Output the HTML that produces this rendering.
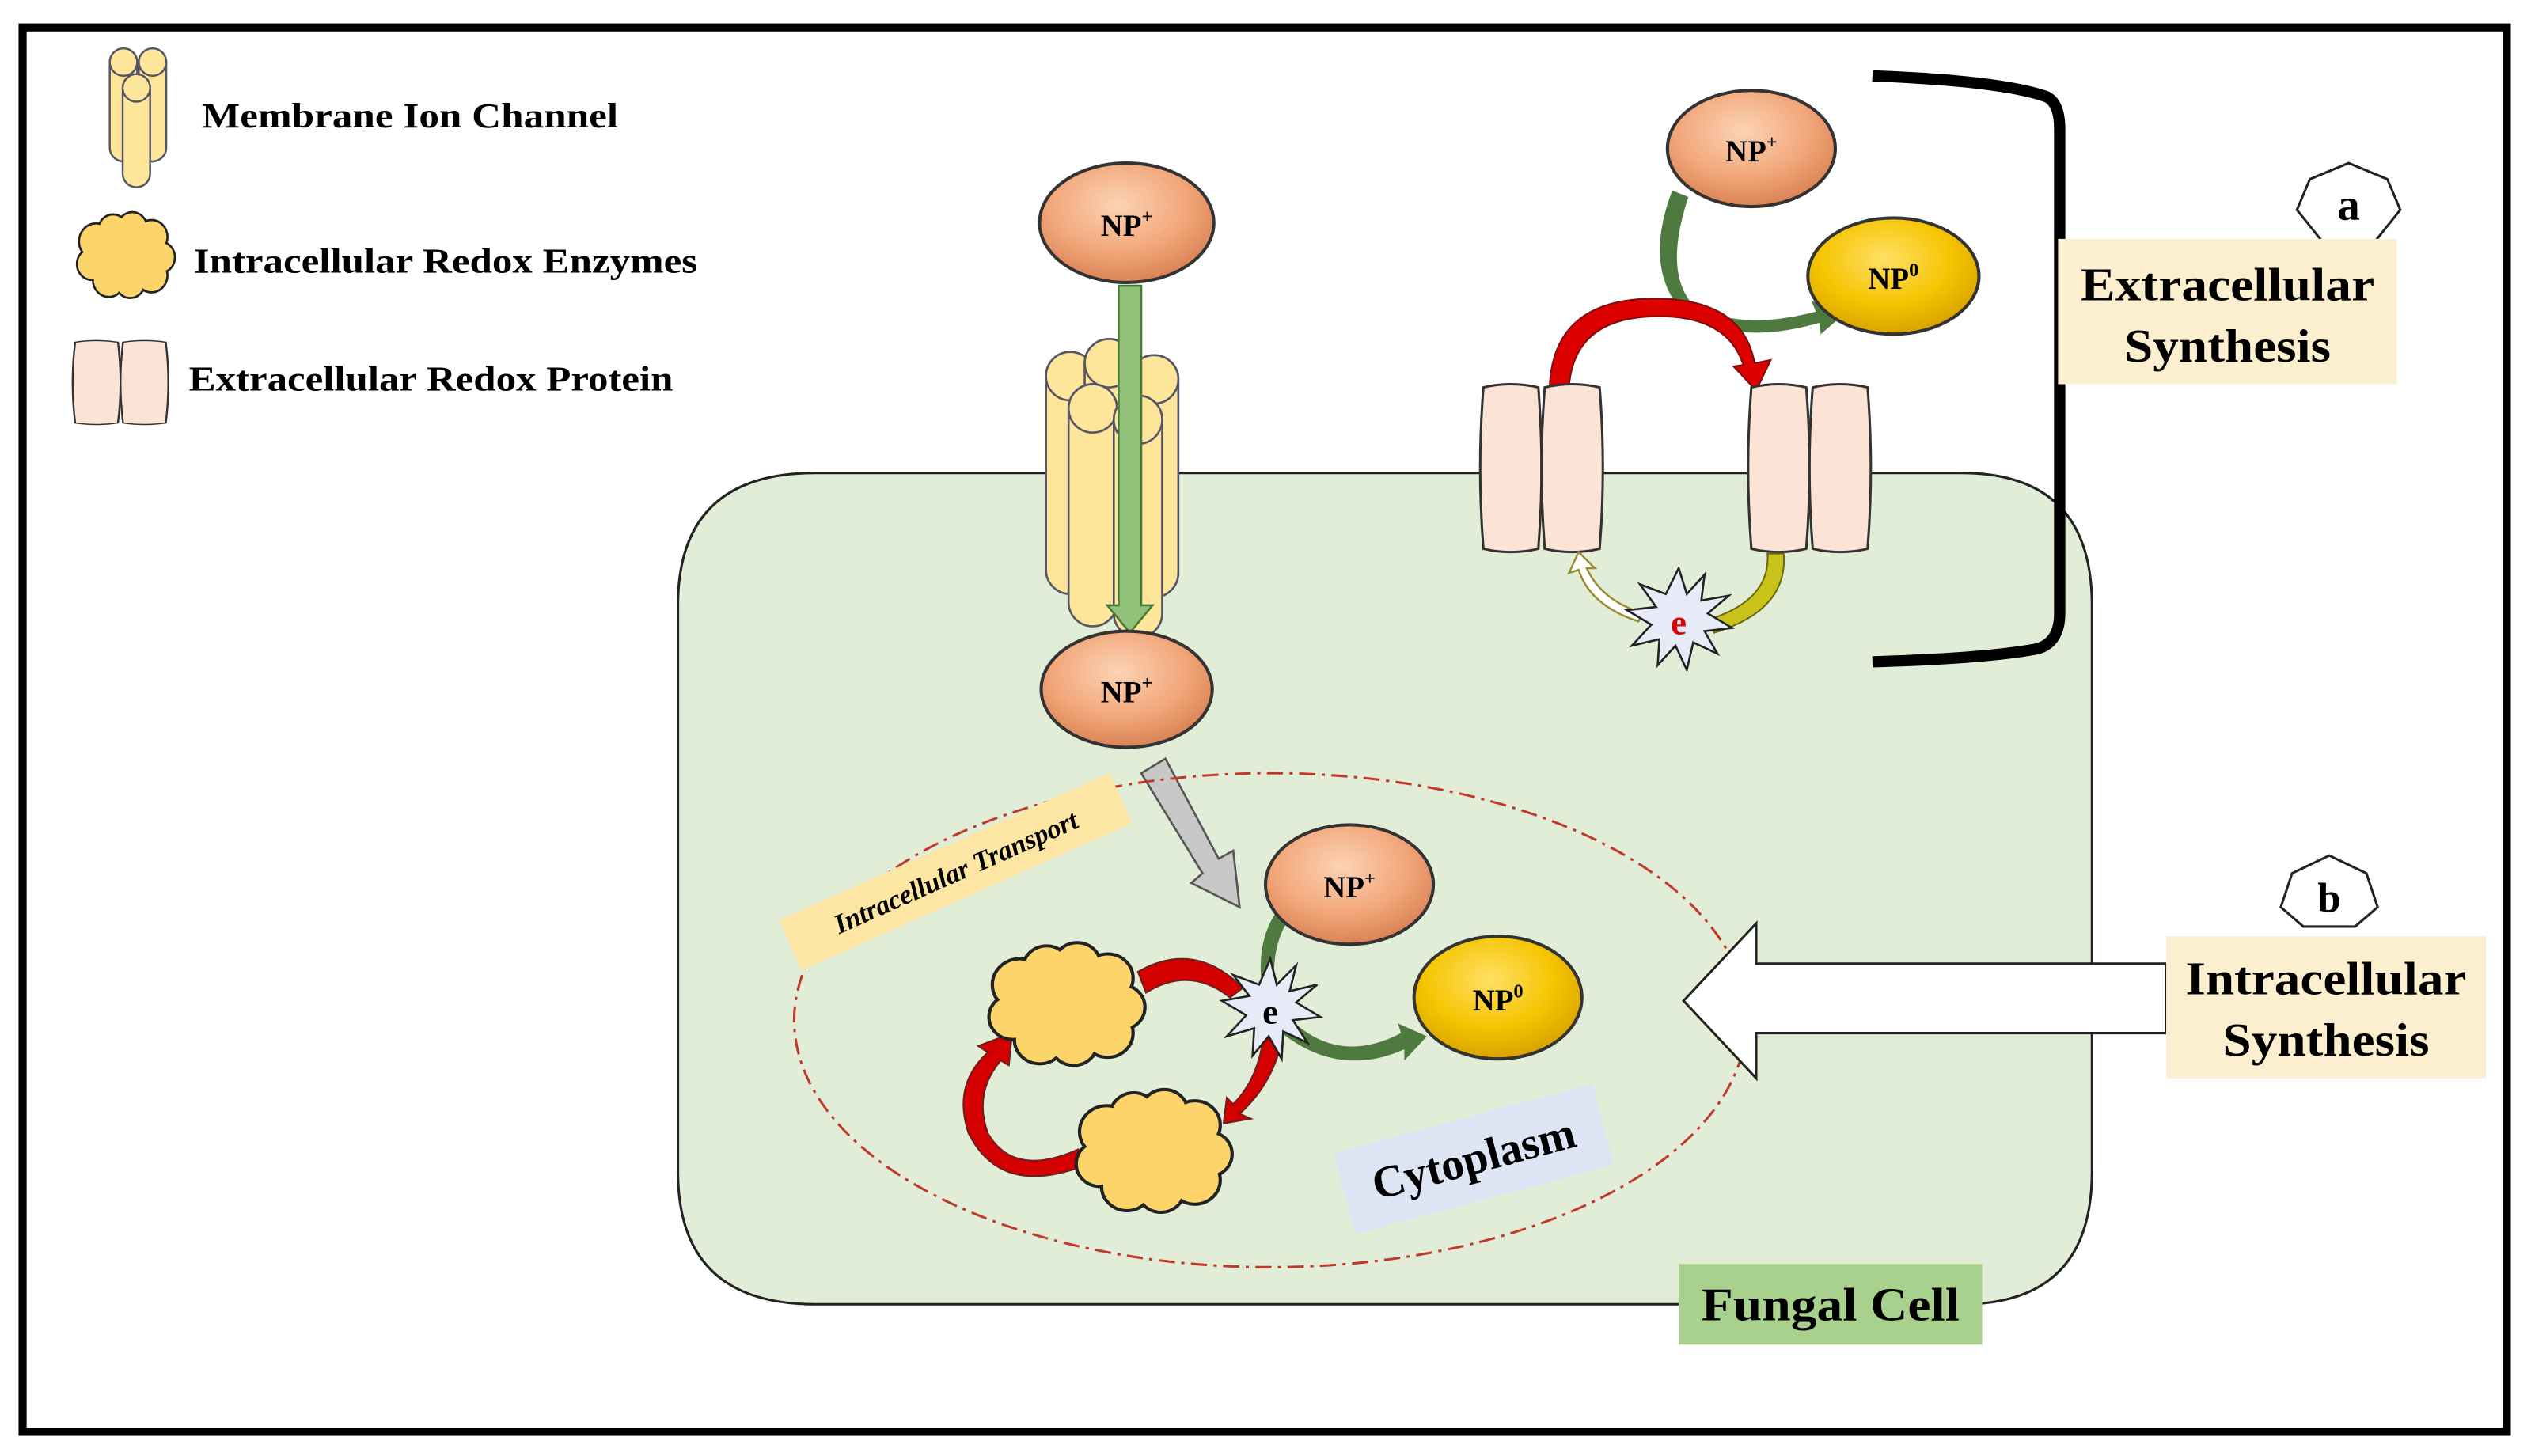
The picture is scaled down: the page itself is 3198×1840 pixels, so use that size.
<!DOCTYPE html>
<html><head><meta charset="utf-8"><style>
html,body{margin:0;padding:0;background:#fff}
svg{display:block}
text{font-family:"Liberation Serif",serif;font-weight:bold;fill:#000}
</style></head><body>
<svg width="3198" height="1840" viewBox="0 0 1568 902" preserveAspectRatio="none" xmlns="http://www.w3.org/2000/svg">
<defs>
<radialGradient id="org" cx="45%" cy="35%" r="65%"><stop offset="0" stop-color="#fbd3b5"/><stop offset="0.6" stop-color="#f2a77a"/><stop offset="1" stop-color="#d98356"/></radialGradient>
<radialGradient id="gold" cx="45%" cy="35%" r="65%"><stop offset="0" stop-color="#ffe066"/><stop offset="0.6" stop-color="#f5c400"/><stop offset="1" stop-color="#d9a300"/></radialGradient>
<g id="cloud">
<g fill="none" stroke="#222" stroke-width="2">
<circle cx="-28" cy="-12" r="16"/><circle cx="-12" cy="-22" r="14"/><circle cx="6" cy="-24" r="14"/><circle cx="24" cy="-16" r="15"/><circle cx="32" cy="2" r="14"/><circle cx="24" cy="18" r="15"/><circle cx="4" cy="24" r="14"/><circle cx="-16" cy="22" r="15"/><circle cx="-32" cy="8" r="14"/>
</g>
<g fill="#fdd46a">
<circle cx="-28" cy="-12" r="15"/><circle cx="-12" cy="-22" r="13"/><circle cx="6" cy="-24" r="13"/><circle cx="24" cy="-16" r="14"/><circle cx="32" cy="2" r="13"/><circle cx="24" cy="18" r="14"/><circle cx="4" cy="24" r="13"/><circle cx="-16" cy="22" r="14"/><circle cx="-32" cy="8" r="13"/><ellipse cx="0" cy="0" rx="34" ry="26"/>
</g></g>
<g id="prot"><path d="M2,0 Q19,-4 36,0 Q40,50 36,100 Q19,104 2,100 Q-2,50 2,0Z" fill="#fbe3d6" stroke="#333" stroke-width="1.5"/></g>
<g id="cyl"><rect x="0" y="0" width="30" height="150" rx="15" ry="15" fill="#fde59a" stroke="#556" stroke-width="1.3"/><ellipse cx="15" cy="15" rx="15" ry="15" fill="#fde59a" stroke="#556" stroke-width="1.3"/></g>
<g id="scyl"><rect x="0" y="0" width="17" height="70" rx="8.5" ry="8.5" fill="#fde59a" stroke="#556" stroke-width="1.2"/><ellipse cx="8.5" cy="8.5" rx="8.5" ry="8.5" fill="#fde59a" stroke="#556" stroke-width="1.2"/></g>
</defs>
<rect x="14" y="17" width="1539" height="870" fill="#fff" stroke="#000" stroke-width="5"/>

<path d="M505,293 H1215 Q1296,293 1296,375 V726 Q1296,808 1215,808 H505 Q420,808 420,726 V375 Q420,293 505,293Z" fill="#e2edd8" stroke="#222" stroke-width="1.5"/>

<use href="#scyl" x="68" y="30"/><use href="#scyl" x="86" y="30"/><use href="#scyl" x="76" y="46"/>
<text x="125" y="79" font-size="22" textLength="258" lengthAdjust="spacingAndGlyphs">Membrane Ion Channel</text>
<g transform="translate(78,158) scale(0.66,0.7)"><use href="#cloud"/></g>
<text x="120" y="169" font-size="22" textLength="312" lengthAdjust="spacingAndGlyphs">Intracellular Redox Enzymes</text>
<g transform="translate(45,212) scale(0.78,0.5)"><use href="#prot"/><use href="#prot" x="38"/></g>
<text x="117" y="242" font-size="22" textLength="300" lengthAdjust="spacingAndGlyphs">Extracellular Redox Protein</text>

<use href="#cyl" x="648" y="218"/>
<use href="#cyl" x="700" y="220"/>
<use href="#cyl" x="672" y="210"/>
<use href="#cyl" x="662" y="238"/>
<use href="#cyl" x="690" y="245"/>
<path d="M693,177 H707 V375 H714 L700,392 L686,375 H693Z" fill="#92c27a" stroke="#4a7a3a" stroke-width="1.3"/>
<ellipse cx="698" cy="138" rx="54" ry="37" fill="url(#org)" stroke="#333" stroke-width="2"/>
<text x="698" y="146" font-size="19" text-anchor="middle">NP<tspan font-size="12" dy="-8">+</tspan></text>
<ellipse cx="698" cy="427" rx="53" ry="36" fill="url(#org)" stroke="#333" stroke-width="2"/>
<text x="698" y="435" font-size="19" text-anchor="middle">NP<tspan font-size="12" dy="-8">+</tspan></text>

<path d="M707,479 L722,470 L755,532 L764,527 L768,562 L738,547 L745,541Z" fill="#c8c8c8" stroke="#555" stroke-width="1.3"/>

<ellipse cx="787" cy="632" rx="295" ry="153" fill="none" stroke="#c0392b" stroke-width="1.5" stroke-dasharray="10,4,2,4"/>

<g transform="translate(592,540) rotate(-24)"><rect x="-112" y="-17" width="224" height="34" fill="#fde6a4"/><text x="0" y="6" font-size="17" text-anchor="middle" font-style="italic">Intracellular Transport</text></g>

<path d="M705,602 Q740,582 770,612 L762,618 Q737,598 710,615Z" fill="#d40000" stroke="#6a2020" stroke-width="1"/>
<path d="M795,640 Q790,670 768,690 L775,693 L758,696 L760,680 L764,684 Q780,668 783,640Z" fill="#d40000" stroke="#6a2020" stroke-width="1"/>
<path d="M672,722 Q620,742 600,702 Q590,672 612,652 L606,648 L627,640 L625,660 L620,657 Q603,677 612,702 Q628,730 668,712Z" fill="#d40000" stroke="#6a2020" stroke-width="1"/>
<g transform="translate(661,622) scale(1.05,1.0)"><use href="#cloud"/></g>
<g transform="translate(715,713) scale(1.05,1.0)"><use href="#cloud"/></g>
<path d="M790,566 Q778,585 782,612 L790,612 Q787,588 798,570Z" fill="#4f7a3f"/>
<path d="M800,632 Q830,660 868,640 L866,634 L884,642 L870,657 L870,650 Q830,668 794,640Z" fill="#4f7a3f"/>
<ellipse cx="836" cy="548" rx="52" ry="37" fill="url(#org)" stroke="#333" stroke-width="2"/>
<text x="836" y="556" font-size="19" text-anchor="middle">NP<tspan font-size="12" dy="-8">+</tspan></text>
<ellipse cx="928" cy="618" rx="52" ry="38" fill="url(#gold)" stroke="#333" stroke-width="2"/>
<text x="928" y="626" font-size="19" text-anchor="middle">NP<tspan font-size="12" dy="-8">0</tspan></text>
<polygon points="787,594 791,610 803,598 799,614 816,610 803,621 818,630 801,632 810,646 795,639 794,656 786,642 776,654 777,637 760,642 772,629 757,620 774,617 764,604 780,610" fill="#e6ebf7" stroke="#222" stroke-width="1.3"/>
<text x="787" y="634" font-size="22" text-anchor="middle">e</text>

<g transform="translate(913,718) rotate(-15)"><rect x="-83" y="-26" width="166" height="52" fill="#dde4f3"/><text x="0" y="9" font-size="28" text-anchor="middle">Cytoplasm</text></g>

<rect x="1040" y="783" width="188" height="50" fill="#a9d18e"/>
<text x="1134" y="818" font-size="29" text-anchor="middle" textLength="160" lengthAdjust="spacingAndGlyphs">Fungal Cell</text>

<path d="M1046,122 Q1030,170 1050,190 Q1080,205 1125,193 L1122,186 L1142,195 L1128,207 L1127,200 Q1075,215 1042,193 Q1018,165 1036,118Z" fill="#4f7a3f"/>
<path d="M960,240 Q962,185 1025,185 Q1080,185 1087,225 L1097,223 L1088,242 L1074,227 L1080,226 Q1070,195 1025,196 Q975,197 972,240Z" fill="#dd0000" stroke="#7a1010" stroke-width="1"/>
<ellipse cx="1085" cy="92" rx="52" ry="36" fill="url(#org)" stroke="#333" stroke-width="2"/>
<text x="1085" y="100" font-size="19" text-anchor="middle">NP<tspan font-size="12" dy="-8">+</tspan></text>
<ellipse cx="1173" cy="171" rx="53" ry="36" fill="url(#gold)" stroke="#333" stroke-width="2"/>
<text x="1173" y="179" font-size="19" text-anchor="middle">NP<tspan font-size="12" dy="-8">0</tspan></text>
<use href="#prot" x="917" y="240"/><use href="#prot" x="955" y="240"/>
<use href="#prot" x="1083" y="240"/><use href="#prot" x="1121" y="240"/>
<path d="M1015,385 Q985,375 978,353 L972,355 L978,342 L988,352 L983,352 Q992,372 1018,380Z" fill="#fff" stroke="#9a8a30" stroke-width="1.2"/>
<path d="M1095,343 H1105 Q1108,378 1062,392 L1058,384 Q1097,372 1095,343Z" fill="#c9c21a" stroke="#6a6a10" stroke-width="1"/>
<polygon points="1040,352 1045,368 1056,356 1054,372 1071,369 1058,380 1073,389 1056,391 1064,405 1049,398 1045,415 1038,400 1027,412 1028,396 1011,400 1023,387 1008,378 1026,376 1016,362 1032,368" fill="#e6ebf7" stroke="#222" stroke-width="1.3"/>
<text x="1040" y="393" font-size="22" text-anchor="middle" style="fill:#e00000">e</text>

<path d="M1160,47 Q1240,50 1268,60 Q1276,64 1276,80 V380 Q1276,398 1262,402 Q1230,408 1160,410" fill="none" stroke="#000" stroke-width="7"/>

<polygon points="1455,101 1479,111 1487,130 1471,150 1439,150 1423,130 1431,111" fill="#fff" stroke="#222" stroke-width="1.5"/>
<text x="1455" y="136" font-size="28" text-anchor="middle">a</text>
<rect x="1275" y="148" width="210" height="90" fill="#fcefcf"/>
<text x="1380" y="186" font-size="29" text-anchor="middle" textLength="182" lengthAdjust="spacingAndGlyphs">Extracellular</text>
<text x="1380" y="224" font-size="29" text-anchor="middle" textLength="128" lengthAdjust="spacingAndGlyphs">Synthesis</text>

<polygon points="1443,530 1466,541 1473,562 1459,574 1427,574 1413,562 1420,541" fill="#fff" stroke="#222" stroke-width="1.5"/>
<text x="1443" y="565" font-size="26" text-anchor="middle">b</text>
<path d="M1342,597 H1088 V572 L1043,620 L1088,668 V640 H1342Z" fill="#fff" stroke="#222" stroke-width="1.5"/>
<rect x="1342" y="580" width="198" height="88" fill="#fcefcf"/>
<text x="1441" y="616" font-size="29" text-anchor="middle" textLength="174" lengthAdjust="spacingAndGlyphs">Intracellular</text>
<text x="1441" y="654" font-size="29" text-anchor="middle" textLength="128" lengthAdjust="spacingAndGlyphs">Synthesis</text>
</svg>
</body></html>
